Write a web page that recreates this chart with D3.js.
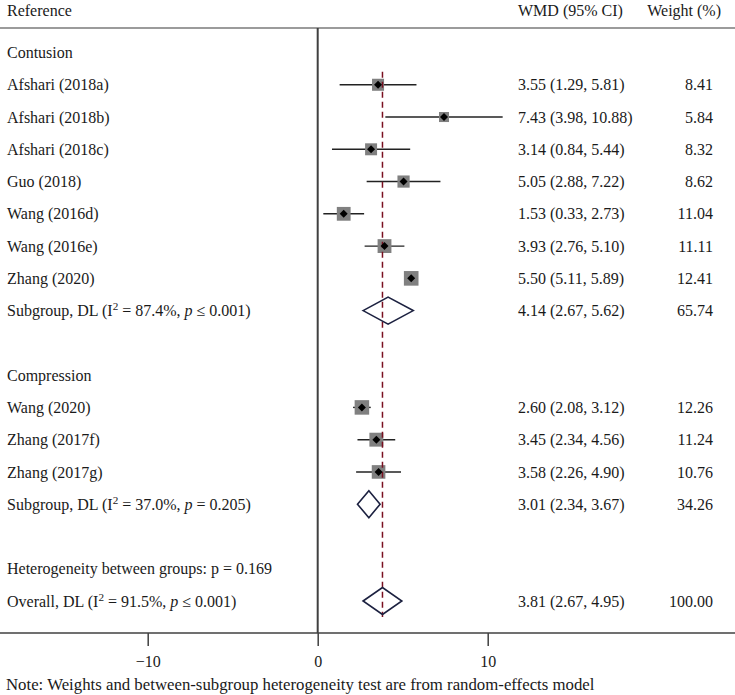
<!DOCTYPE html>
<html>
<head>
<meta charset="utf-8">
<script src="https://cdn.jsdelivr.net/npm/d3@7"></script>
<style>
  html, body { margin: 0; padding: 0; background: #fff; }
  svg { display: block; }
  text { font-family: "Liberation Serif", "Times New Roman", serif; fill: #1a1a1a; }
</style>
</head>
<body>
<svg id="chart" width="735" height="695"></svg>
<script>
// ---------- data ----------
const groupNames = ["Contusion", "Compression"];
const studyNames = ["Afshari (2018a)", "Afshari (2018b)", "Afshari (2018c)", "Guo (2018)",
                    "Wang (2016d)", "Wang (2016e)", "Zhang (2020)",
                    "Wang (2020)", "Zhang (2017f)", "Zhang (2017g)"];
const studyGroup = [0, 0, 0, 0, 0, 0, 0, 1, 1, 1];
const studyEst  = [3.55, 7.43, 3.14, 5.05, 1.53, 3.93, 5.50, 2.60, 3.45, 3.58];
const studyLow  = [1.29, 3.98, 0.84, 2.88, 0.33, 2.76, 5.11, 2.08, 2.34, 2.26];
const studyHigh = [5.81, 10.88, 5.44, 7.22, 2.73, 5.10, 5.89, 3.12, 4.56, 4.90];
const studyWeight = [8.41, 5.84, 8.32, 8.62, 11.04, 11.11, 12.41, 12.26, 11.24, 10.76];

const subI2 = ["87.4%", "37.0%"];
const subP = ["≤ 0.001", "= 0.205"];
const subEst = [4.14, 3.01];
const subLow = [2.67, 2.34];
const subHigh = [5.62, 3.67];
const subWeight = [65.74, 34.26];

const overallEst = 3.81, overallLow = 2.67, overallHigh = 4.95, overallWeight = 100.00;
const overallI2 = "91.5%", overallP = "≤ 0.001";
const hetBetweenP = "0.169";

const tickValues = [-10, 0, 10];
const tickLabels = ["−10", "0", "10"];

const noteText = "Note: Weights and between-subgroup heterogeneity test are from random-effects model";

// ---------- layout ----------
const W = 735, H = 695;
const svg = d3.select("#chart");
const fs = 16;

const x = d3.scaleLinear().domain([0, 10]).range([317.7, 487.7]);
const y = d3.scaleLinear().domain([0, 17]).range([52.5, 601]);
const axisY = 633;
const headerY = 28;

// build rows
const rows = [];
let r = 0;
groupNames.forEach((g, gi) => {
  rows.push({type: "group", label: g, row: r++});
  studyNames.forEach((s, i) => {
    if (studyGroup[i] === gi) rows.push({type: "study", i, row: r++});
  });
  rows.push({type: "sub", gi, row: r++});
  r++; // blank
});
rows.push({type: "het", row: r++});
rows.push({type: "overall", row: r++});

const fmt = d3.format(".2f");
const ciText = (e, l, h) => `${fmt(e)} (${fmt(l)}, ${fmt(h)})`;

// header
svg.append("text").attr("x", 7).attr("y", 10).attr("dy", "0.35em").attr("font-size", fs).text("Reference");
svg.append("text").attr("x", 518).attr("y", 10).attr("dy", "0.35em").attr("font-size", fs).text("WMD (95% CI)");
svg.append("text").attr("x", 721).attr("y", 10).attr("dy", "0.35em").attr("font-size", fs).attr("text-anchor", "end").text("Weight (%)");

// header line
svg.append("line").attr("x1", 0).attr("x2", W).attr("y1", headerY).attr("y2", headerY)
  .attr("stroke", "#7a7a7a").attr("stroke-width", 1.5);

// zero line
svg.append("line").attr("x1", x(0)).attr("x2", x(0)).attr("y1", headerY).attr("y2", axisY)
  .attr("stroke", "#404040").attr("stroke-width", 2);

// axis
const axis = d3.axisBottom(x).tickValues(tickValues).tickSize(13).tickSizeOuter(0)
  .tickFormat((d, i) => tickLabels[i]);
const ax = svg.append("g").attr("transform", `translate(0,${axisY})`).call(axis);
ax.select(".domain").remove();
ax.selectAll(".tick line").attr("stroke", "#404040").attr("stroke-width", 1.5);
ax.selectAll(".tick text").attr("font-size", fs).attr("font-family", "Liberation Serif, serif")
  .attr("fill", "#1a1a1a").attr("dy", "1.15em");
svg.append("line").attr("x1", 0).attr("x2", W).attr("y1", axisY).attr("y2", axisY)
  .attr("stroke", "#404040").attr("stroke-width", 1.5);

// note
svg.append("text").attr("x", 6).attr("y", 684.5).attr("dy", "0.35em").attr("font-size", 16.8).text(noteText);

const gCI = svg.append("g");
const gSq = svg.append("g");
const gRef = svg.append("g");
const gPt = svg.append("g");
const gTxt = svg.append("g");

function labelWithStats(sel, prefix, i2, p) {
  const t = sel;
  t.append("tspan").text(prefix + " (I");
  t.append("tspan").attr("baseline-shift", "super").attr("font-size", fs * 0.7).text("2");
  t.append("tspan").text(` = ${i2}, `);
  t.append("tspan").attr("font-style", "italic").text("p");
  t.append("tspan").text(` ${p})`);
}

function diamond(g, e, l, h, yc, hh) {
  const pts = [[x(l), yc], [x(e), yc - hh], [x(h), yc], [x(e), yc + hh]];
  g.append("path").attr("d", d3.line()(pts) + "Z")
    .attr("fill", "none").attr("stroke", "#1c2140").attr("stroke-width", 1.6);
}

const sqK = 4.15;
rows.forEach(d => {
  const yc = y(d.row);
  const txt = gTxt.append("text").attr("x", 7).attr("y", yc).attr("dy", "0.35em").attr("font-size", fs);
  if (d.type === "group") {
    txt.text(d.label);
  } else if (d.type === "study") {
    const i = d.i;
    txt.text(studyNames[i]);
    gCI.append("line").attr("x1", x(studyLow[i])).attr("x2", x(studyHigh[i]))
      .attr("y1", yc).attr("y2", yc).attr("stroke", "#222").attr("stroke-width", 1.4);
    const s = sqK * Math.sqrt(studyWeight[i]);
    gSq.append("rect").attr("x", x(studyEst[i]) - s / 2).attr("y", yc - s / 2)
      .attr("width", s).attr("height", s).attr("fill", "#808080");
    const m = 4;
    gPt.append("path").attr("d", d3.line()([[x(studyEst[i]) - m, yc], [x(studyEst[i]), yc - m], [x(studyEst[i]) + m, yc], [x(studyEst[i]), yc + m]]) + "Z")
      .attr("fill", "#000");
    gTxt.append("text").attr("x", 518).attr("y", yc).attr("dy", "0.35em").attr("font-size", fs)
      .text(ciText(studyEst[i], studyLow[i], studyHigh[i]));
    gTxt.append("text").attr("x", 713).attr("y", yc).attr("dy", "0.35em").attr("font-size", fs)
      .attr("text-anchor", "end").text(fmt(studyWeight[i]));
  } else if (d.type === "sub") {
    const gi = d.gi;
    labelWithStats(txt, "Subgroup, DL", subI2[gi], subP[gi]);
    diamond(gPt, subEst[gi], subLow[gi], subHigh[gi], yc, 13.5);
    gTxt.append("text").attr("x", 518).attr("y", yc).attr("dy", "0.35em").attr("font-size", fs)
      .text(ciText(subEst[gi], subLow[gi], subHigh[gi]));
    gTxt.append("text").attr("x", 713).attr("y", yc).attr("dy", "0.35em").attr("font-size", fs)
      .attr("text-anchor", "end").text(fmt(subWeight[gi]));
  } else if (d.type === "het") {
    txt.text(`Heterogeneity between groups: p = ${hetBetweenP}`);
  } else if (d.type === "overall") {
    labelWithStats(txt, "Overall, DL", overallI2, overallP);
    diamond(gPt, overallEst, overallLow, overallHigh, yc, 13.5);
    gTxt.append("text").attr("x", 518).attr("y", yc).attr("dy", "0.35em").attr("font-size", fs)
      .text(ciText(overallEst, overallLow, overallHigh));
    gTxt.append("text").attr("x", 713).attr("y", yc).attr("dy", "0.35em").attr("font-size", fs)
      .attr("text-anchor", "end").text(fmt(overallWeight));
  }
});

// overall reference dashed line
gRef.append("line").attr("x1", x(overallEst)).attr("x2", x(overallEst))
  .attr("y1", y(1) - 13).attr("y2", y(17) + 16)
  .attr("stroke", "#7a1020").attr("stroke-width", 1.5).attr("stroke-dasharray", "6,4");
</script>
</body>
</html>
